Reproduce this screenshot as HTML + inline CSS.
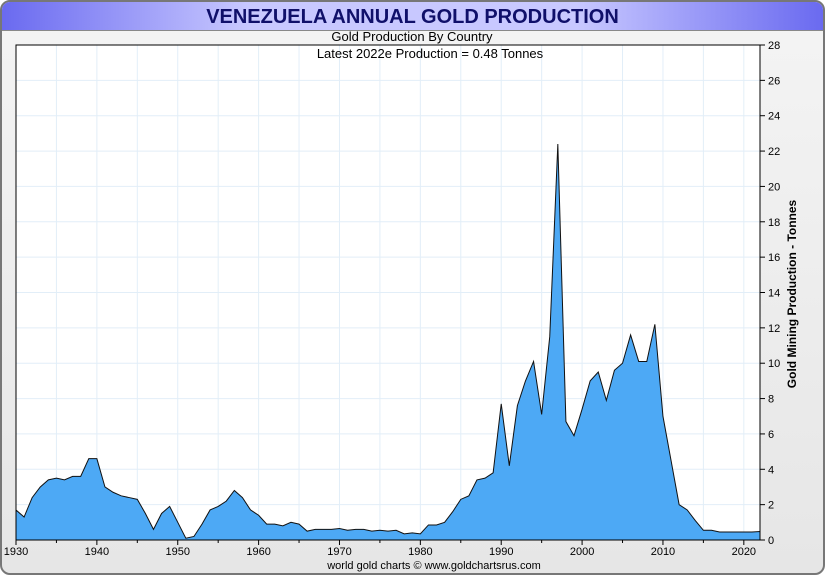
<!DOCTYPE html>
<html><head><meta charset="utf-8"><style>
body{margin:0;width:825px;height:575px;overflow:hidden;background:#fff;font-family:"Liberation Sans",sans-serif}
#frame{position:absolute;left:0;top:0;width:821px;height:571px;border:2px solid #777;border-radius:10px;background:linear-gradient(#f4f4f4,#e6e6e6);overflow:hidden}
#titlebar{position:absolute;left:0;top:0;width:821px;height:28px;background:linear-gradient(90deg,#6a6af0,#c8c8ff 30%,#c8c8ff 70%,#6a6af0);border-bottom:1px solid #888;text-align:center;font-weight:bold;font-size:20px;line-height:30px;color:#10106a}
</style></head><body>
<div id="frame">
<div id="titlebar">VENEZUELA ANNUAL GOLD PRODUCTION</div>
</div>
<svg id="chart" width="825" height="575" style="position:absolute;left:0;top:0"></svg>
<script>
const years=[];for(let y=1930;y<=2022;y++)years.push(y);
const values=[1.7,1.3,2.4,3.0,3.4,3.5,3.4,3.6,3.6,4.6,4.6,3.0,2.7,2.5,2.4,2.3,1.5,0.6,1.5,1.9,1.0,0.1,0.2,0.9,1.7,1.9,2.2,2.8,2.4,1.7,1.4,0.9,0.9,0.8,1.0,0.9,0.5,0.6,0.6,0.6,0.65,0.55,0.6,0.6,0.5,0.55,0.5,0.55,0.35,0.4,0.35,0.85,0.85,1.0,1.6,2.3,2.5,3.4,3.5,3.8,7.7,4.2,7.6,9.0,10.1,7.1,11.5,22.4,6.7,5.9,7.4,9.0,9.5,7.9,9.6,10.0,11.6,10.1,10.1,12.2,7.0,4.5,2.0,1.7,1.1,0.55,0.55,0.45,0.45,0.45,0.45,0.45,0.48];
const yTicks=[0,2,4,6,8,10,12,14,16,18,20,22,24,26,28];
const xTicks=[1930,1940,1950,1960,1970,1980,1990,2000,2010,2020];
const L=16,R=760,T=45,B=540;
const x=y=>L+(y-1930)*(R-L)/92;
const yv=v=>B-v*(B-T)/28;
const svg=document.getElementById('chart');const NS='http://www.w3.org/2000/svg';
function mk(t,a,p){const e=document.createElementNS(NS,t);for(const k in a)e.setAttribute(k,a[k]);(p||svg).appendChild(e);return e;}
const bg=mk('rect',{x:L,y:T,width:R-L,height:B-T,fill:'#fff'});


for(let yr=1930;yr<=2022;yr+=5){const g=mk('line',{x1:x(yr),x2:x(yr),y1:T,y2:B,stroke:'#e2eef8'});

}
yTicks.forEach(v=>{const g=mk('line',{x1:L,x2:R,y1:yv(v),y2:yv(v),stroke:'#e2eef8'});


const t=mk('line',{x1:R,x2:R+5,y1:yv(v),y2:yv(v),stroke:'#000'});


const l=mk('text',{x:R+8,y:yv(v)+4,'font-size':11,fill:'#000'});l.textContent=v;

});
let d='M'+x(years[0])+','+B;years.forEach((yr,i)=>{d+=' L'+x(yr)+','+yv(values[i]);});d+=' L'+x(years[years.length-1])+','+B+' Z';
const area=mk('path',{d:d,fill:'#4da9f5',stroke:'#111','stroke-width':1});


const ax=mk('path',{d:`M${L},${T} L${R},${T} L${R},${B} L${L},${B} Z`,fill:'none',stroke:'#000'});


for(let yr=1930;yr<=2022;yr+=5){const t=mk('line',{x1:x(yr),x2:x(yr),y1:B,y2:B+(yr%10==0?5:3),stroke:'#000'});

}
xTicks.forEach(yr=>{const l=mk('text',{x:x(yr),y:B+15,'font-size':11,'text-anchor':'middle'});l.textContent=yr;

});
function txt(s,a,name){const e=mk('text',a);e.textContent=s;

return e;}
txt('Gold Production By Country',{x:412,y:41,'font-size':13,'text-anchor':'middle'},'subtitle');
txt('Latest 2022e  Production = 0.48 Tonnes',{x:430,y:58,'font-size':13,'text-anchor':'middle'},'latest-annotation');
txt('world gold charts © www.goldchartsrus.com',{x:434,y:569,'font-size':11,'text-anchor':'middle'},'footer-credit');
txt('Gold Mining Production - Tonnes',{x:0,y:0,'font-size':12,'font-weight':'bold','text-anchor':'middle',transform:'translate(796,294) rotate(-90)'},'y-axis-title');
</script>
</body></html>
